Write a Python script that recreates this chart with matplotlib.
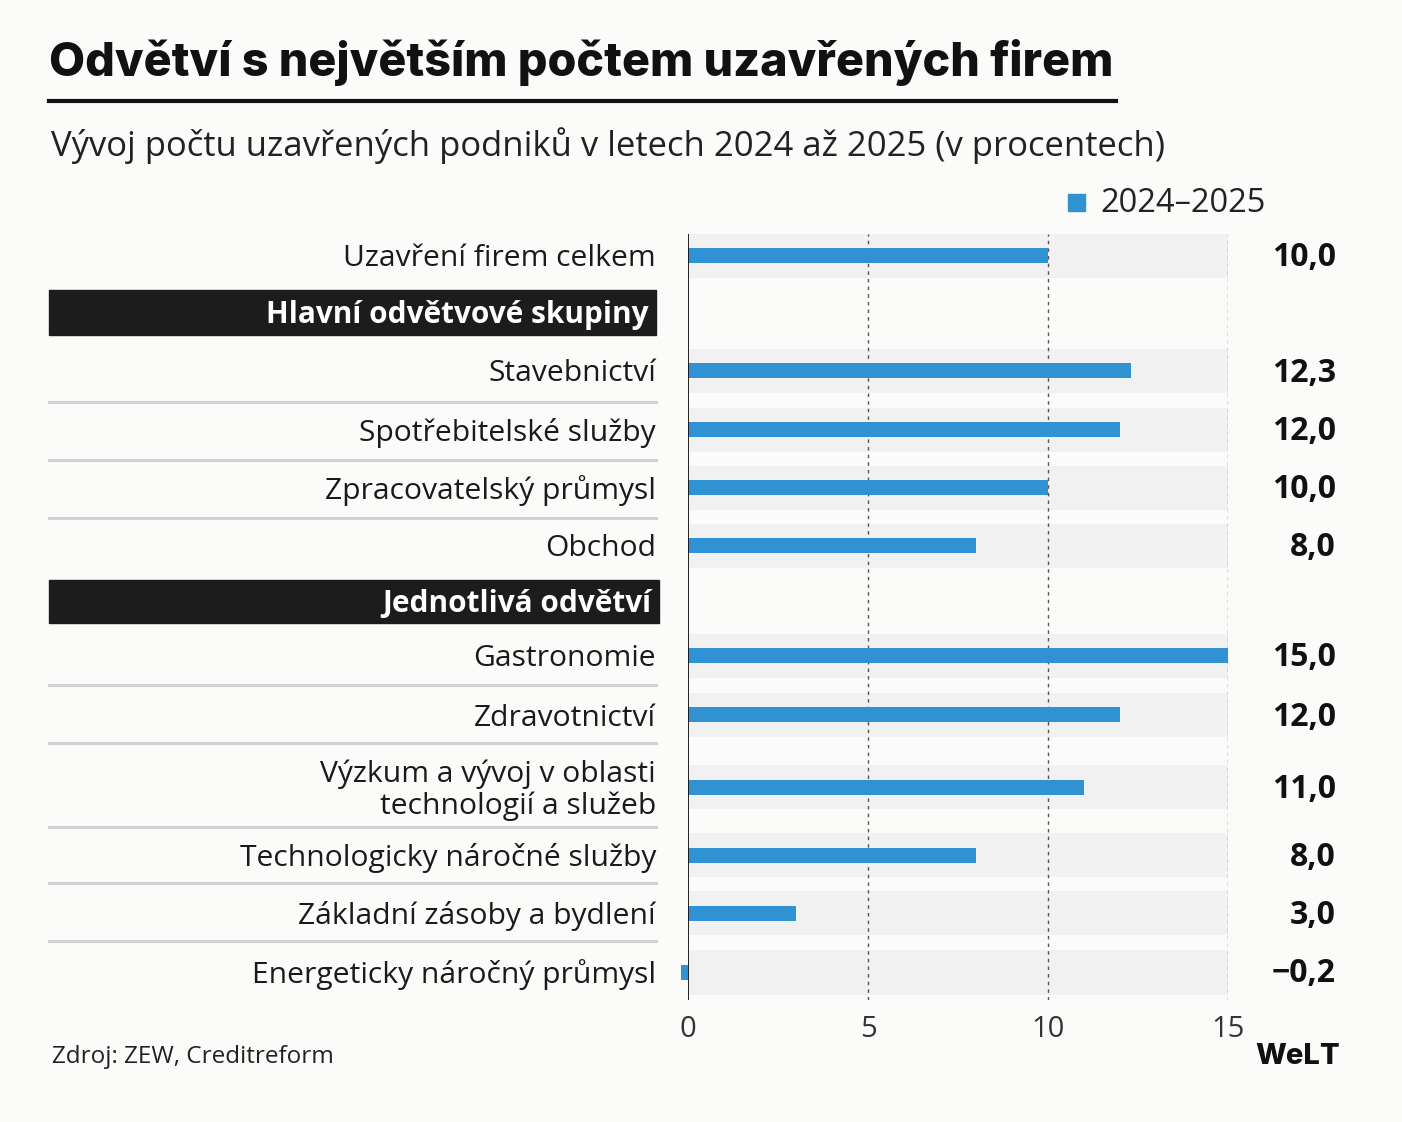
import matplotlib.pyplot as plt
from matplotlib.patches import Rectangle
from matplotlib.lines import Line2D

# ---- Data ----
categories = [
    "Uzavření firem celkem",
    "Stavebnictví",
    "Spotřebitelské služby",
    "Zpracovatelský průmysl",
    "Obchod",
    "Gastronomie",
    "Zdravotnictví",
    "Výzkum a vývoj v oblasti\ntechnologií a služeb",
    "Technologicky náročné služby",
    "Základní zásoby a bydlení",
    "Energeticky náročný průmysl",
]
values = [10.0, 12.3, 12.0, 10.0, 8.0, 15.0, 12.0, 11.0, 8.0, 3.0, -0.2]
value_labels = ["10,0", "12,3", "12,0", "10,0", "8,0", "15,0", "12,0", "11,0", "8,0", "3,0", "\u22120,2"]
group_headers = ["Hlavní odvětvové skupiny", "Jednotlivá odvětví"]
xticks = [0, 5, 10, 15]
legend_label = "2024\u20132025"

# ---- Layout (pixels) ----
W, H = 1402, 1122
row_y = [256, 371, 430, 488, 546, 656, 715, 787, 855, 913, 972]
row_h = [44, 44, 44, 44, 44, 44, 44, 44, 44, 44, 45]
header_boxes = [(49, 290, 656, 335), (49, 580, 659, 623)]
separators = [402, 460, 518, 685, 743, 827, 883, 941]

BG = "#fbfbf9"
BLUE = "#3192d3"
BAND = "#f1f1f1"
FONT = "Open Sans"


def fx(x):
    return x / W


def fy(y):
    return 1 - y / H


fig = plt.figure(figsize=(W / 100, H / 100), dpi=100, facecolor=BG)

# chart axes: x 688..1228 px, y 234..1000 px
ax_l, ax_r, ax_t, ax_b = 688, 1228, 234, 1000
ax = fig.add_axes([fx(ax_l), fy(ax_b), (ax_r - ax_l) / W, (ax_b - ax_t) / H])
ax.set_facecolor("none")
ax.set_xlim(0, 15)
ax.set_ylim(ax_b, ax_t)
for s in ax.spines.values():
    s.set_visible(False)

ax.barh(row_y, [15] * len(row_y), height=row_h, left=0, color=BAND, zorder=0)
for t in xticks[1:]:
    ax.axvline(t, color="#555555", lw=1.0, ls=(0, (2.5, 3)), zorder=1)
ax.barh(row_y, values, height=15, color=BLUE, zorder=2, clip_on=False)
ax.axvline(0, color="#111111", lw=1.3, zorder=3)

ax.set_yticks([])
ax.set_xticks(xticks)
ax.set_xticklabels([str(t) for t in xticks], fontsize=21, family=FONT, color="#333333")
ax.tick_params(axis="x", length=0, pad=11)

# category labels
for cat, y in zip(categories, row_y):
    fig.text(fx(656), fy(y + 3), cat, ha="right", va="center", fontsize=21.6,
             family=FONT, color="#1a1a1a", linespacing=1.1)

# value labels
for lab, y in zip(value_labels, row_y):
    fig.text(fx(1336), fy(y + 2), lab, ha="right", va="center", fontsize=23,
             family=FONT, weight="bold", color="#111111")

# group headers
for (x0, y0, x1, y1), txt in zip(header_boxes, group_headers):
    fig.patches.append(Rectangle((fx(x0), fy(y1)), fx(x1 - x0), (y1 - y0) / H,
                                 transform=fig.transFigure, color="#1c1c1c", zorder=1))
    fig.text(fx(x1 - 8), fy((y0 + y1) / 2 + 2), txt, ha="right", va="center",
             fontsize=21.4, family=FONT, weight="bold", color="white", zorder=2)

# separators
for y in separators:
    fig.add_artist(Line2D([fx(49), fx(656)], [fy(y), fy(y)], color="#d2d2d2", lw=2.2))

# title + underline
fig.text(fx(49), fy(62), "Odvětví s největším počtem uzavřených firem", ha="left", va="center",
         fontsize=33.6, family="Inter", weight="heavy", color="#111111")
fig.add_artist(Line2D([fx(49), fx(1116)], [fy(101), fy(101)], color="#111111", lw=3))

fig.text(fx(51), fy(146), "Vývoj počtu uzavřených podniků v letech 2024 až 2025 (v procentech)",
         ha="left", va="center", fontsize=24.9, family=FONT, color="#222222")

# legend
fig.patches.append(Rectangle((fx(1068), fy(211)), fx(17), 17 / H, transform=fig.transFigure,
                             color=BLUE))
fig.text(fx(1100), fy(203), legend_label, ha="left", va="center", fontsize=23.5,
         family=FONT, color="#222222")

# footer
fig.text(fx(52), fy(1057), "Zdroj: ZEW, Creditreform", ha="left", va="center",
         fontsize=17.5, family=FONT, color="#222222")
fig.text(fx(1340), fy(1057), "WeLT", ha="right", va="center", fontsize=21,
         family="Inter", weight="heavy", color="#111111")

fig.savefig("out.png", dpi=100, facecolor=BG)
